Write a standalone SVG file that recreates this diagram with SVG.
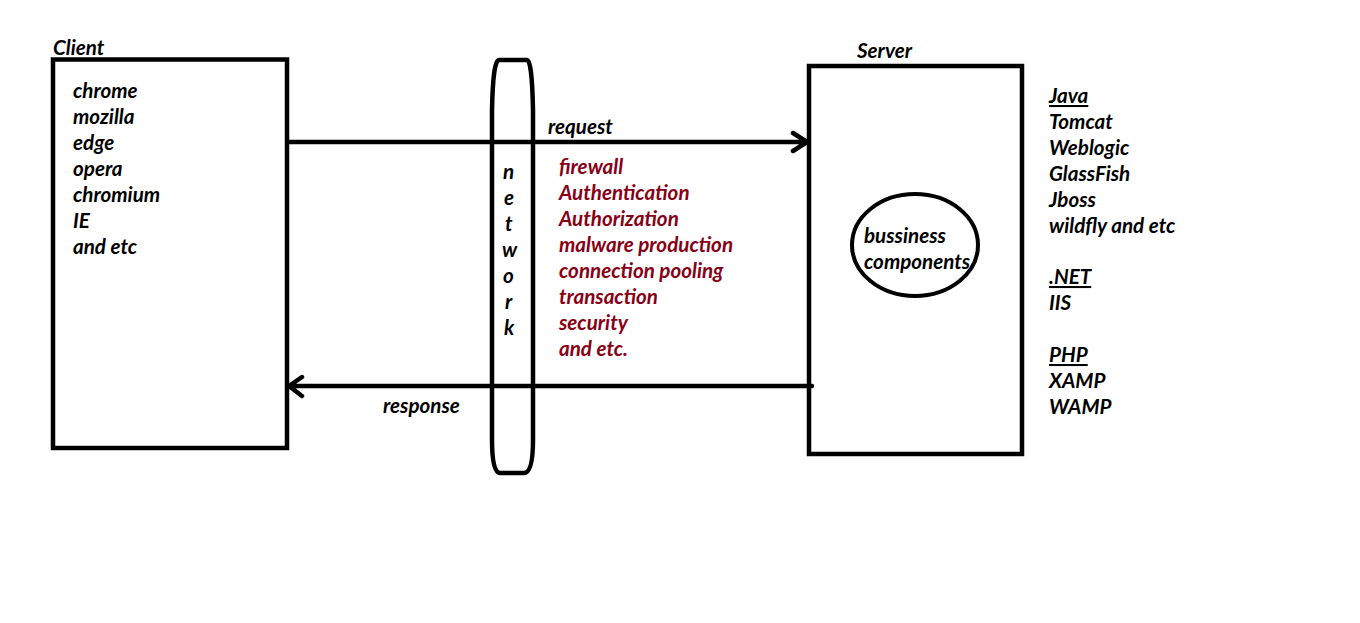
<svg xmlns="http://www.w3.org/2000/svg" width="1360" height="623" viewBox="0 0 1360 623">
<style>
.t{font-family:Lato,"Open Sans","Liberation Sans",sans-serif;font-size:20.6px;font-weight:bold;font-style:italic;fill:#000}
.r{fill:#880015}
.u{text-decoration:underline}
.box{fill:none;stroke:#000;stroke-width:4.5}
.ln{fill:none;stroke:#000;stroke-width:4.5;stroke-linecap:round;stroke-linejoin:round}
</style>
<rect width="1360" height="623" fill="#fff"/>
<g id="client">
<rect class="box" x="53" y="59.5" width="234" height="388.5"/>
<text class="t" x="53" y="55">Client</text>
<text class="t" x="73" y="98">chrome</text>
<text class="t" x="73" y="124">mozilla</text>
<text class="t" x="73" y="150">edge</text>
<text class="t" x="73" y="176">opera</text>
<text class="t" x="73" y="202">chromium</text>
<text class="t" x="73" y="228">IE</text>
<text class="t" x="73" y="254">and etc</text>
</g>
<g id="network">
<path class="ln" d="M499 60 L527 60 Q532 60 533 110 L533 440 Q533 473 524 473 L500 473 Q492 473 492 440 L492 110 Q493 60 499 60 Z" stroke-width="4"/>
<text class="t" x="503" y="179">n</text>
<text class="t" x="504" y="205">e</text>
<text class="t" x="505" y="231">t</text>
<text class="t" x="502" y="257">w</text>
<text class="t" x="503" y="283">o</text>
<text class="t" x="505" y="309">r</text>
<text class="t" x="504" y="335">k</text>
</g>
<g id="features">
<text class="t r" x="559" y="174">firewall</text>
<text class="t r" x="559" y="200">Authentication</text>
<text class="t r" x="559" y="226">Authorization</text>
<text class="t r" x="559" y="252">malware production</text>
<text class="t r" x="559" y="278">connection pooling</text>
<text class="t r" x="559" y="304">transaction</text>
<text class="t r" x="559" y="330">security</text>
<text class="t r" x="559" y="356">and etc.</text>
</g>
<g id="server">
<rect class="box" x="809" y="66" width="213" height="388"/>
<text class="t" x="857" y="58">Server</text>
</g>
<g id="business">
<ellipse cx="915" cy="245" rx="63" ry="51" fill="none" stroke="#000" stroke-width="4"/>
<text class="t" x="864" y="243">bussiness</text>
<text class="t" x="864" y="269">components</text>
</g>
<g id="platforms">
<text class="t u" x="1049" y="103">Java</text>
<text class="t" x="1049" y="129">Tomcat</text>
<text class="t" x="1049" y="155">Weblogic</text>
<text class="t" x="1049" y="181">GlassFish</text>
<text class="t" x="1049" y="207">Jboss</text>
<text class="t" x="1049" y="233">wildfly and etc</text>
<text class="t u" x="1049" y="284">.NET</text>
<text class="t" x="1049" y="310">IIS</text>
<text class="t u" x="1049" y="362">PHP</text>
<text class="t" x="1049" y="388">XAMP</text>
<text class="t" x="1049" y="414">WAMP</text>
</g>
<g id="connectors">
<path class="ln" d="M289 142 L806 142 M793 133 L807 142 L793 151"/>
<text class="t" x="548" y="134">request</text>
<path class="ln" d="M812 386 L289 386 M302 377 L289 386 L302 396"/>
<text class="t" x="383" y="413">response</text>
</g>
</svg>
